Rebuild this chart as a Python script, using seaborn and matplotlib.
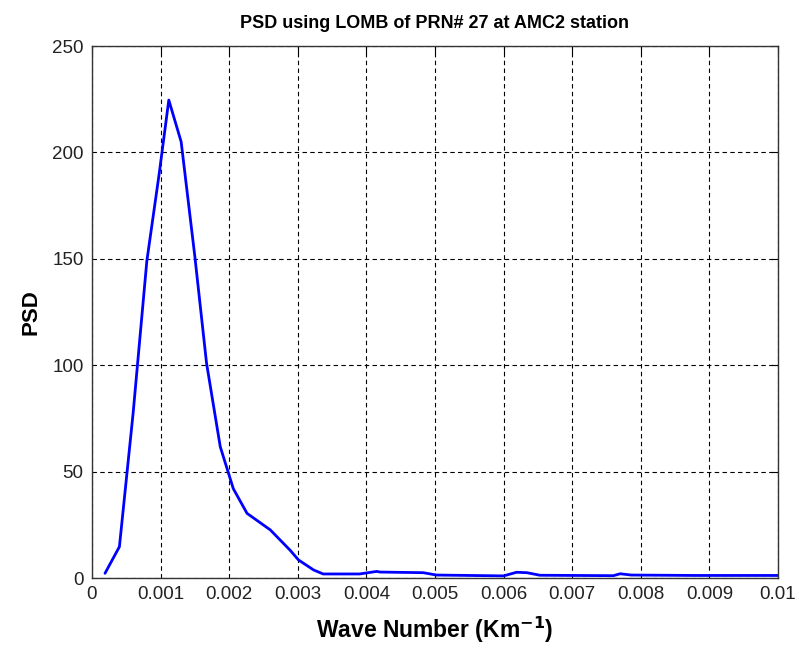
import matplotlib
matplotlib.use("Agg")
import matplotlib.pyplot as plt
import seaborn as sns
import pandas as pd

wave_number = [0.00019, 0.0004, 0.0006, 0.0008, 0.00098, 0.00112, 0.0013, 0.0015, 0.00167,
               0.00187, 0.00206, 0.00226, 0.0026, 0.00289, 0.00301, 0.00323, 0.00337,
               0.0039, 0.00415, 0.0042, 0.00483, 0.00502, 0.006, 0.00619, 0.00634,
               0.00653, 0.0076, 0.0077, 0.00786, 0.0088, 0.01]
psd = [2.2, 14.7, 77.5, 149, 190, 224.6, 205, 151, 101,
       61.7, 42, 30.4, 22.6, 13, 8.5, 3.8, 1.9,
       1.9, 3.1, 2.8, 2.5, 1.4, 1.0, 2.7, 2.5,
       1.3, 1.1, 2.0, 1.4, 1.2, 1.2]
x_ticks = [0, 0.001, 0.002, 0.003, 0.004, 0.005, 0.006, 0.007, 0.008, 0.009, 0.01]
x_labels = ["0", "0.001", "0.002", "0.003", "0.004", "0.005", "0.006", "0.007", "0.008", "0.009", "0.01"]
y_ticks = [0, 50, 100, 150, 200, 250]

sns.set_style("white")
plt.rcParams['font.family'] = ['Liberation Sans', 'DejaVu Sans']
plt.rcParams['text.color'] = 'black'
plt.rcParams['axes.labelcolor'] = 'black'

df = pd.DataFrame({"wave": wave_number, "psd": psd})

fig = plt.figure(figsize=(7.99, 6.48), dpi=100)
ax = fig.add_axes([0.1151, 0.108, 0.8586, 0.821])
sns.lineplot(data=df, x="wave", y="psd", ax=ax, color="#0000FF", linewidth=2.0)

ax.set_xlim(0, 0.01)
ax.set_ylim(0, 250)
ax.set_xticks(x_ticks)
ax.set_xticklabels(x_labels)
ax.set_yticks(y_ticks)
ax.grid(True, color="black", linestyle=(0, (4, 3)), linewidth=0.8)
ax.tick_params(direction="in", length=5, width=0.8, top=True, right=True,
               labelsize=13.5, colors="black", labelcolor="#222222", pad=6)
for s in ax.spines.values():
    s.set_color("#333333")
    s.set_linewidth(1.0)
ax.set_title("PSD using LOMB of PRN# 27 at AMC2 station", fontsize=13, fontweight="bold",
             pad=13, color="black")
ax.set_xlabel("Wave Number (Km$^{\\mathbf{-1}}$)", fontsize=16.5, fontweight="bold", labelpad=8)
ax.set_ylabel("PSD", fontsize=16, fontweight="bold", labelpad=8)

fig.savefig("out.png", dpi=100)
